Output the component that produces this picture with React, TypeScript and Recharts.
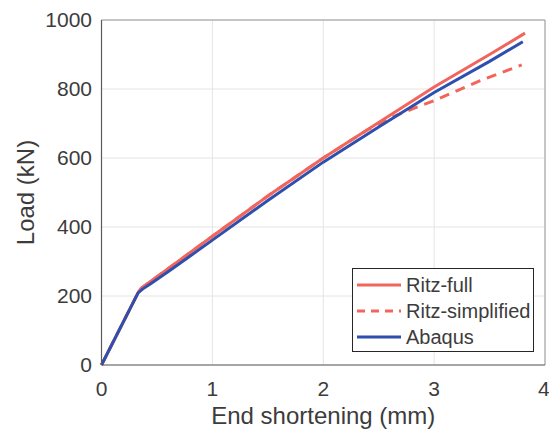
import { LineChart, Line, XAxis, YAxis, CartesianGrid, Legend, ReferenceLine } from "recharts";

// End shortening (mm) / load (kN)
const RITZ_FULL_X = [0, 0.335, 0.36, 0.42, 0.6, 0.8, 1.0, 1.5, 2.0, 2.5, 3.0, 3.5, 3.82];
const RITZ_FULL_Y = [0, 213, 223, 237, 279, 326, 373, 490, 600, 703, 806, 900, 962];

const RITZ_SIMPLE_X = [0, 0.335, 0.36, 0.42, 0.6, 0.8, 1.0, 1.5, 2.0, 2.4, 2.6, 2.8, 3.0, 3.4, 3.79];
const RITZ_SIMPLE_Y = [0, 213, 223, 237, 279, 326, 373, 490, 600, 682, 716, 742, 766, 822, 870];

const ABAQUS_X = [0, 0.33, 0.37, 0.45, 0.6, 0.8, 1.0, 1.5, 2.0, 2.5, 3.0, 3.5, 3.8];
const ABAQUS_Y = [0, 209, 220, 237, 270, 316, 362, 477, 588, 690, 790, 880, 937];

const X_TICKS = [0, 1, 2, 3, 4];
const Y_TICKS = [0, 200, 400, 600, 800, 1000];

const FONT = "'Liberation Sans', Arial, Helvetica, sans-serif";
const TEXT_COLOR = "#3c3c3c";
const RED = "#f2655c";
const BLUE = "#2d4fae";

const zip = (xs: number[], ys: number[]) => xs.map((x, i) => ({ x, y: ys[i] }));

const SERIES = [
  { name: "Ritz-full", data: zip(RITZ_FULL_X, RITZ_FULL_Y), color: RED, dash: undefined },
  { name: "Ritz-simplified", data: zip(RITZ_SIMPLE_X, RITZ_SIMPLE_Y), color: RED, dash: "10 7" },
  { name: "Abaqus", data: zip(ABAQUS_X, ABAQUS_Y), color: BLUE, dash: undefined },
];

function LegendBox() {
  return (
    <div
      style={{
        width: 182,
        height: 84,
        boxSizing: "border-box",
        border: "1px solid #262626",
        background: "#fff",
        paddingTop: 3,
        fontFamily: FONT,
        fontSize: 20,
        color: TEXT_COLOR,
      }}
    >
      {SERIES.map((s) => (
        <div key={s.name} style={{ display: "flex", alignItems: "center", height: 26 }}>
          <svg width={50} height={10} style={{ marginLeft: 3 }}>
            <line
              x1={1}
              y1={5}
              x2={45}
              y2={5}
              stroke={s.color}
              strokeWidth={3}
              strokeDasharray={s.dash ? "8 6" : undefined}
            />
          </svg>
          <span style={{ lineHeight: "26px" }}>{s.name}</span>
        </div>
      ))}
    </div>
  );
}

const YLabel = (props: any) => {
  const vb = props.viewBox;
  const cx = 25;
  const cy = vb.y + vb.height / 2;
  return (
    <text
      x={cx}
      y={cy}
      transform={`rotate(-90, ${cx}, ${cy})`}
      textAnchor="middle"
      dominantBaseline="central"
      fontFamily={FONT}
      fontSize={24}
      fill={TEXT_COLOR}
    >
      Load (kN)
    </text>
  );
};

export default function App() {
  return (
    <div style={{ position: "absolute", left: 0, top: 0 }}>
      <LineChart width={549} height={432} margin={{ top: 20, right: 4, left: 0, bottom: 0 }}>
        <CartesianGrid stroke="#e4e4e4" strokeWidth={1} />
        <XAxis
          type="number"
          dataKey="x"
          domain={[0, 4]}
          ticks={X_TICKS}
          height={67}
          tickLine={false}
          tickMargin={10}
          axisLine={{ stroke: "#5a5a5a", strokeWidth: 1.2 }}
          tick={{ fontFamily: FONT, fontSize: 21, fill: TEXT_COLOR }}
          label={{
            value: "End shortening (mm)",
            position: "insideBottom",
            offset: 8,
            fontFamily: FONT,
            fontSize: 24,
            fill: TEXT_COLOR,
          }}
        />
        <YAxis
          type="number"
          dataKey="y"
          domain={[0, 1000]}
          ticks={Y_TICKS}
          width={101.5}
          tickLine={false}
          tickMargin={3.5}
          axisLine={{ stroke: "#5a5a5a", strokeWidth: 1.2 }}
          tick={{ fontFamily: FONT, fontSize: 21, fill: TEXT_COLOR }}
          label={{ value: "Load (kN)", content: YLabel }}
        />
        <ReferenceLine y={1000} stroke="#9a9a9a" strokeWidth={1} />
        <ReferenceLine x={4} stroke="#9a9a9a" strokeWidth={1} />
        {SERIES.map((s) => (
          <Line
            key={s.name}
            name={s.name}
            data={s.data}
            dataKey="y"
            type="linear"
            stroke={s.color}
            strokeWidth={3}
            strokeDasharray={s.dash}
            dot={false}
            isAnimationActive={false}
          />
        ))}
        <Legend
          layout="vertical"
          align="center"
          verticalAlign="middle"
          content={() => <LegendBox />}
          wrapperStyle={{ left: 352, top: 268, width: 182, height: 84 }}
        />
      </LineChart>
    </div>
  );
}
